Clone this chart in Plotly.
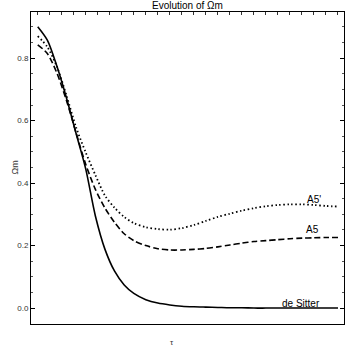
import plotly.graph_objects as go

# Omega_m evolution, values
tau = [0, 0.8, 1.6, 2.4, 3.2, 4.0, 4.8, 5.6, 6.4, 7.2, 8, 9, 10, 11, 12, 13,
       14, 15, 16, 17, 18, 19, 20, 21, 22, 23, 24, 25]

de_sitter = [0.901, 0.858, 0.774, 0.672, 0.558, 0.445, 0.295, 0.188, 0.118,
             0.074, 0.047, 0.027, 0.016, 0.010, 0.006, 0.004, 0.003, 0.002,
             0.001, 0.001, 0.0, 0.0, 0.0, 0.0, 0.0, 0.0, 0.0, 0.0]

a5 = [0.843, 0.815, 0.752, 0.664, 0.560, 0.460, 0.380, 0.320, 0.274, 0.238,
      0.216, 0.200, 0.190, 0.186, 0.186, 0.188, 0.191, 0.196, 0.202, 0.208,
      0.213, 0.216, 0.219, 0.222, 0.224, 0.225, 0.226, 0.226]

a5_prime = [0.871, 0.836, 0.773, 0.680, 0.578, 0.498, 0.426, 0.360, 0.321,
            0.292, 0.272, 0.259, 0.253, 0.251, 0.256, 0.266, 0.279, 0.292,
            0.302, 0.312, 0.320, 0.326, 0.330, 0.332, 0.332, 0.330, 0.327,
            0.325]

curve_labels = ["de Sitter", "A5", "A5'"]
label_pos = [(21.9, 0.016), (22.9, 0.25), (23.0, 0.349)]

FONT = "Liberation Sans, Arial, sans-serif"

fig = go.Figure()

styles = [("solid", 1.6), ("6px,3px", 1.6), ("1.5px,2.5px", 1.8)]
for ys, (dash, w), name in zip([de_sitter, a5, a5_prime], styles, curve_labels):
    fig.add_trace(go.Scatter(
        x=tau, y=ys, mode="lines",
        line=dict(color="black", width=w, dash=dash, shape="spline", smoothing=0.8),
        name=name, showlegend=False, hoverinfo="skip",
    ))

# curve labels
for name, (lx, ly) in zip(curve_labels, label_pos):
    fig.add_annotation(x=lx, y=ly, text=name, showarrow=False,
                       font=dict(family=FONT, size=10, color="black"))

fig.add_annotation(x=0.5, y=1, xref="paper", yref="paper", text="Evolution of Ωm",
                   showarrow=False, yanchor="bottom", yshift=-1,
                   font=dict(family=FONT, size=10, color="black"))
fig.add_annotation(x=0.45, y=-0.04, xref="paper", yref="paper", text="τ",
                   showarrow=False, yanchor="top",
                   font=dict(family=FONT, size=8, color="#333"))
fig.add_annotation(x=-0.075, y=0.5, xref="paper", yref="paper", text="Ωm",
                   showarrow=False, textangle=-90,
                   font=dict(family=FONT, size=9, color="#333"))

fig.update_layout(
    width=345, height=354,
    margin=dict(l=31, r=1, t=12, b=30),
    paper_bgcolor="white", plot_bgcolor="white",
    xaxis=dict(
        range=[-0.56, 25.5], side="top", showgrid=False, zeroline=False,
        showline=True, mirror=True, linecolor="black", linewidth=1,
        ticks="inside", tick0=0, dtick=1, ticklen=3, tickcolor="#333",
        showticklabels=False, automargin=False,
    ),
    yaxis=dict(
        range=[-0.051, 0.948], showgrid=False, zeroline=False,
        showline=True, mirror="ticks", linecolor="black", linewidth=1,
        ticks="inside", tick0=0, dtick=0.2, ticklen=4, tickcolor="black",
        tickformat=".1f", tickfont=dict(family=FONT, size=8, color="#333"),
        minor=dict(ticks="inside", dtick=0.05, ticklen=2, tickcolor="#555"),
        automargin=False,
    ),
)

# drop the browser's default body margin so the figure sits at the window origin
fig.write_html("out.html", config={"displayModeBar": False},
               post_script="document.body.style.margin='0';")
